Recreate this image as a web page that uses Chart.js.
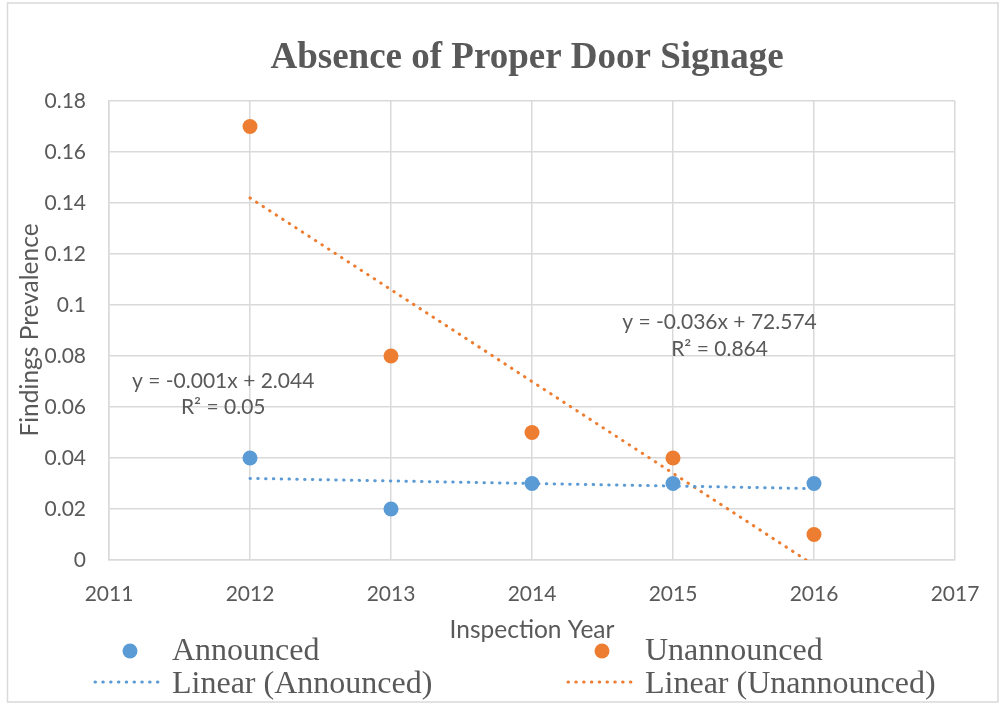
<!DOCTYPE html>
<html>
<head>
<meta charset="utf-8">
<script src="https://cdn.jsdelivr.net/npm/chart.js@4/dist/chart.umd.min.js"></script>
<style>
  body { margin: 0; background: #fff; }
  #wrap { position: relative; width: 1005px; height: 709px; }
</style>
</head>
<body>
<div id="wrap"><canvas id="mychart" width="1005" height="709"></canvas></div>
<script>
// data
var years = [2012, 2013, 2014, 2015, 2016];
var announced = [0.04, 0.02, 0.03, 0.03, 0.03];
var unannounced = [0.17, 0.08, 0.05, 0.04, 0.01];
var xTicks = [2011, 2012, 2013, 2014, 2015, 2016, 2017];
var yTicks = [0, 0.02, 0.04, 0.06, 0.08, 0.1, 0.12, 0.14, 0.16, 0.18];
var eqAnnounced = ['y = -0.001x + 2.044', 'R\u00b2 = 0.05'];
var eqUnannounced = ['y = -0.036x + 72.574', 'R\u00b2 = 0.864'];

var blue = '#5B9BD5';
var orange = '#ED7D31';
var textGray = '#595959';
var gridGray = '#d9d9d9';
var tickFont = 'Lato';

// least squares line, same as excel linear trendline
function fit(xs, ys) {
    var n = xs.length, mx = 0, my = 0;
    for (var i = 0; i < n; i++) { mx += xs[i]; my += ys[i]; }
    mx /= n; my /= n;
    var sxy = 0, sxx = 0;
    for (var i = 0; i < n; i++) {
        sxy += (xs[i] - mx) * (ys[i] - my);
        sxx += (xs[i] - mx) * (xs[i] - mx);
    }
    var b = sxy / sxx;
    var a = my - b * mx;
    var first = xs[0], last = xs[n - 1];
    return [{x: first, y: a + b * first}, {x: last, y: a + b * last}];
}

function pts(ys) {
    return years.map(function (y, i) { return {x: y, y: ys[i]}; });
}

// title, axis titles, equations, legend and the outer frame
var extras = {
    id: 'extras',
    beforeDraw: function (chart) {
        var c = chart.ctx;
        c.save();
        c.fillStyle = '#fff';
        c.fillRect(0, 0, chart.width, chart.height);
        c.strokeStyle = gridGray;
        c.lineWidth = 1.5;
        c.strokeRect(7.5, 3, 990.5, 699);
        c.restore();
    },
    afterDraw: function (chart) {
        var c = chart.ctx;
        var xs = chart.scales.x, ys = chart.scales.y;
        c.save();
        c.fillStyle = textGray;

        c.font = 'bold 37px "Liberation Serif"';
        c.textAlign = 'center';
        c.textBaseline = 'middle';
        c.fillText('Absence of Proper Door Signage', 527, 58);

        c.font = '24.5px ' + tickFont;
        c.fillText('Inspection Year', 532, 630);
        c.save();
        c.translate(30, 330);
        c.rotate(-Math.PI / 2);
        c.fillText('Findings Prevalence', 0, 0);
        c.restore();

        // trendline equations
        c.font = '21px ' + tickFont;
        var ax = xs.getPixelForValue(2011.81);
        c.fillText(eqAnnounced[0], ax, ys.getPixelForValue(0.0702));
        c.fillText(eqAnnounced[1], ax, ys.getPixelForValue(0.06));
        var ux = xs.getPixelForValue(2015.33);
        c.fillText(eqUnannounced[0], ux, ys.getPixelForValue(0.0933));
        c.fillText(eqUnannounced[1], ux, ys.getPixelForValue(0.0827));

        // legend, two columns
        var cols = [
            {color: blue, name: 'Announced', mx: 130, lx0: 95, lx1: 165, tx: 172},
            {color: orange, name: 'Unannounced', mx: 602, lx0: 568, lx1: 637, tx: 645}
        ];
        c.font = '32px "Liberation Serif"';
        c.textAlign = 'left';
        c.textBaseline = 'alphabetic';
        cols.forEach(function (col) {
            c.fillStyle = col.color;
            c.beginPath();
            c.arc(col.mx, 651, 7.5, 0, Math.PI * 2);
            c.fill();
            c.strokeStyle = col.color;
            c.lineWidth = 3;
            c.lineCap = 'round';
            c.setLineDash([0.5, 7.3]);
            c.beginPath();
            c.moveTo(col.lx0, 682);
            c.lineTo(col.lx1, 682);
            c.stroke();
            c.setLineDash([]);
            c.fillStyle = textGray;
            c.fillText(col.name, col.tx, 660);
            c.fillText('Linear (' + col.name + ')', col.tx, 693);
        });
        c.restore();
    }
};

new Chart('mychart', {
    type: 'scatter',
    data: {
        datasets: [
            {
                label: 'Announced', data: pts(announced), order: 1,
                backgroundColor: blue, borderColor: blue,
                pointRadius: 7.5, pointHoverRadius: 7.5, pointBorderWidth: 0
            },
            {
                label: 'Unannounced', data: pts(unannounced), order: 1,
                backgroundColor: orange, borderColor: orange,
                pointRadius: 7.5, pointHoverRadius: 7.5, pointBorderWidth: 0
            },
            {
                label: 'Linear (Announced)', type: 'line', data: fit(years, announced), order: 2,
                borderColor: blue, borderWidth: 3, borderDash: [0.5, 7.3], borderCapStyle: 'round',
                pointRadius: 0, fill: false
            },
            {
                label: 'Linear (Unannounced)', type: 'line', data: fit(years, unannounced), order: 2,
                borderColor: orange, borderWidth: 3, borderDash: [0.5, 7.3], borderCapStyle: 'round',
                pointRadius: 0, fill: false
            }
        ]
    },
    options: {
        responsive: false,
        animation: false,
        events: [],
        layout: {padding: {left: 0, top: 101, right: 50, bottom: 99}},
        plugins: {legend: {display: false}, title: {display: false}, tooltip: {enabled: false}},
        scales: {
            x: {
                type: 'linear', min: 2011, max: 2017,
                afterBuildTicks: function (s) { s.ticks = xTicks.map(function (v) { return {value: v}; }); },
                afterFit: function (s) { s.height = 50; },
                grid: {color: gridGray, lineWidth: 1.5, drawTicks: false},
                border: {color: gridGray, width: 1.5},
                ticks: {
                    padding: 22, color: textGray, font: {family: tickFont, size: 21},
                    callback: function (v) { return String(v); }
                }
            },
            y: {
                min: 0, max: 0.18,
                afterBuildTicks: function (s) { s.ticks = yTicks.map(function (v) { return {value: v}; }); },
                afterFit: function (s) { s.width = 109; },
                grid: {color: gridGray, lineWidth: 1.5, drawTicks: false},
                border: {color: gridGray, width: 1.5},
                ticks: {
                    padding: 23, color: textGray, font: {family: tickFont, size: 21},
                    callback: function (v) { return String(+v.toFixed(2)); }
                }
            }
        }
    },
    plugins: [extras]
});
</script>
</body>
</html>
